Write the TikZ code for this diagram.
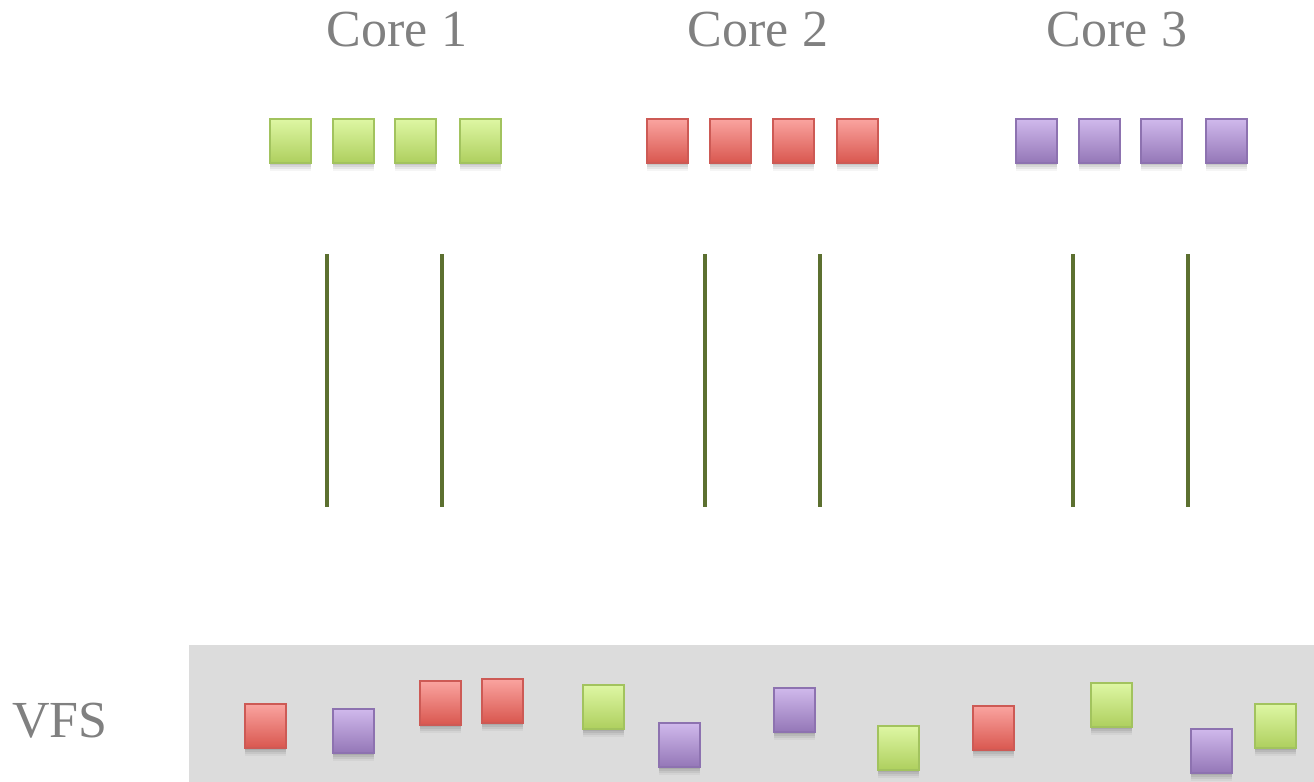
\documentclass[tikz,border=0pt]{standalone}
\usepackage{fontspec}
\setmainfont{Liberation Serif}
\definecolor{labelgray}{HTML}{808080}
\definecolor{poolgray}{HTML}{DCDCDC}
\definecolor{wire}{HTML}{5C7030}
\definecolor{gtop}{HTML}{DEF7A4}
\definecolor{gbot}{HTML}{AECF5E}
\definecolor{gline}{HTML}{A2C35E}
\definecolor{rtop}{HTML}{FAA4A0}
\definecolor{rbot}{HTML}{D9574F}
\definecolor{rline}{HTML}{CD5A55}
\definecolor{ptop}{HTML}{D0B9EC}
\definecolor{pbot}{HTML}{9477B7}
\definecolor{pline}{HTML}{8D72B0}
\tikzset{
  softshade/.style={preaction={fill=black, fill opacity=#1, draw=none,
    transform canvas={yshift=-\pgfkeysvalueof{/tikz/shadestep}}}},
  shadestep/.initial=1pt,
  block/.style={anchor=north west, inner sep=0pt, minimum width=20.5pt,
    minimum height=22pt, line width=0.9pt,
    preaction={fill=black, fill opacity=0.07, draw=none, transform canvas={yshift=-1.2pt}},
    preaction={fill=black, fill opacity=0.07, draw=none, transform canvas={yshift=-2.2pt}},
    preaction={fill=black, fill opacity=0.06, draw=none, transform canvas={yshift=-3.2pt}},
    preaction={fill=black, fill opacity=0.04, draw=none, transform canvas={yshift=-4.2pt}}},
  gsq/.style={block, draw=gline, top color=gtop, bottom color=gbot},
  rsq/.style={block, draw=rline, top color=rtop, bottom color=rbot},
  psq/.style={block, draw=pline, top color=ptop, bottom color=pbot},
  lbl/.style={text=labelgray, inner sep=0pt, font=\fontsize{26}{30}\selectfont},
  wireline/.style={draw=wire, line width=2.3pt}
}
\begin{document}
\begin{tikzpicture}[x=0.5pt, y=-0.5pt]
\useasboundingbox (0,0) rectangle (1314,782);
\fill[white] (0,0) rectangle (1314,782);

% core labels
\node[lbl, anchor=base] (c1) at (397,46) {Core 1};
\node[lbl, anchor=base] (c2) at (758,46) {Core 2};
\node[lbl, anchor=base] (c3) at (1117,46) {Core 3};

% per-core queues
\node[gsq] (g1) at (269,118) {};
\node[gsq] (g2) at (332,118) {};
\node[gsq] (g3) at (394,118) {};
\node[gsq] (g4) at (459,118) {};
\node[rsq] (r1) at (646,118) {};
\node[rsq] (r2) at (709,118) {};
\node[rsq] (r3) at (772,118) {};
\node[rsq] (r4) at (836,118) {};
\node[psq] (p1) at (1015,118) {};
\node[psq] (p2) at (1078,118) {};
\node[psq] (p3) at (1140,118) {};
\node[psq] (p4) at (1205,118) {};

% vertical wires
\foreach \x in {327,442,705,820,1073,1188}
  \draw[wireline] (\x,254) -- (\x,507);

% shared VFS pool
\fill[poolgray] (189,645) rectangle (1314,782);
\node[lbl, anchor=base west] (vfs) at (12,737) {VFS};

\node[rsq] (v1) at (244,703) {};
\node[psq] (v2) at (332,708) {};
\node[rsq] (v3) at (419,680) {};
\node[rsq] (v4) at (481,678) {};
\node[gsq] (v5) at (582,684) {};
\node[psq] (v6) at (658,722) {};
\node[psq] (v7) at (773,687) {};
\node[gsq] (v8) at (877,725) {};
\node[rsq] (v9) at (972,705) {};
\node[gsq] (v10) at (1090,682) {};
\node[psq] (v11) at (1190,728) {};
\node[gsq] (v12) at (1254,703) {};
\end{tikzpicture}
\end{document}
